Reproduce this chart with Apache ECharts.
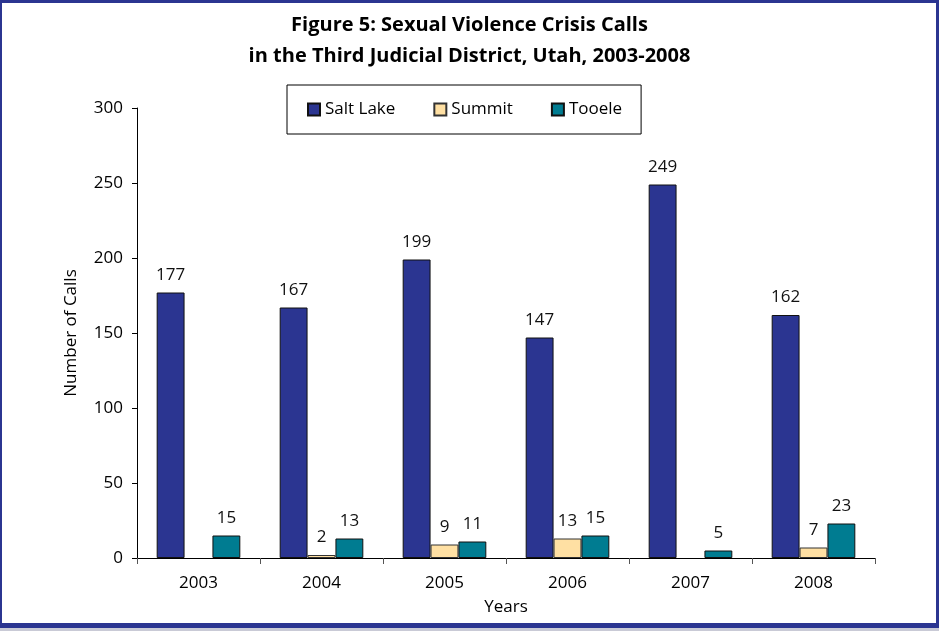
<!DOCTYPE html>
<html>
<head>
<meta charset="utf-8">
<script src="https://cdn.jsdelivr.net/npm/echarts@6/dist/echarts.min.js"></script>
<style>
  html, body { margin: 0; padding: 0; background: #fff; }
  #chart { position: absolute; left: 0; top: 0; width: 939px; height: 635px; }
  #frame {
    position: absolute; left: 0; top: 0; width: 934px; height: 620px;
    border-top: 3px solid #2B3591; border-left: 2px solid #2B3591;
    border-right: 3px solid #2B3591; border-bottom: 5px solid #2B3591;
    pointer-events: none;
  }
  #shadow { position: absolute; left: 0; top: 628px; width: 939px; height: 3px; background: #c9cad6; }
</style>
</head>
<body>
<div id="chart"></div>
<div id="frame"></div>
<div id="shadow"></div>
<script>
const years = ['2003', '2004', '2005', '2006', '2007', '2008']
const saltLake = [177, 167, 199, 147, 249, 162]
const summit = [null, 2, 9, 13, null, 7]
const tooele = [15, 13, 11, 15, 5, 23]

const fontFamily = '"Open Sans", "Noto Sans", sans-serif'
const axisLineColor = '#000'

const seriesDefault = {
  type: 'bar',
  barGap: 0,
  barCategoryGap: '32%',
  label: {
    show: true,
    position: 'top',
    distance: 9,
    color: '#111',
    fontSize: 17,
    fontFamily
  }
}

const chart = echarts.init(document.getElementById('chart'))
chart.setOption({
  backgroundColor: '#fff',
  animation: false,
  title: {
    text: 'Figure 5: Sexual Violence Crisis Calls\nin the Third Judicial District, Utah, 2003-2008',
    left: 'center',
    top: 5,
    textStyle: {
      fontFamily,
      fontWeight: 'bold',
      fontSize: 20,
      lineHeight: 31,
      color: '#000'
    }
  },
  legend: {
    left: 287,
    top: 85,
    padding: [16, 19, 16, 20],
    itemGap: 38,
    itemWidth: 12,
    itemHeight: 12,
    icon: 'rect',
    borderColor: '#000',
    borderWidth: 1,
    textStyle: { fontFamily, fontSize: 17, color: '#000' },
    data: ['Salt Lake', 'Summit', 'Tooele']
  },
  grid: {
    left: 137,
    right: 64,
    top: 108,
    bottom: 77
  },
  xAxis: {
    type: 'category',
    data: years,
    name: 'Years',
    nameLocation: 'middle',
    nameGap: 41,
    nameTextStyle: { fontFamily, fontSize: 17, color: '#000' },
    axisLine: { lineStyle: { color: axisLineColor, width: 1 } },
    axisTick: { show: true, length: 6, lineStyle: { color: '#555' } },
    axisLabel: { fontFamily, fontSize: 17, color: '#000', margin: 17 }
  },
  yAxis: {
    type: 'value',
    min: 0,
    max: 300,
    interval: 50,
    name: 'Number of Calls',
    nameLocation: 'middle',
    nameGap: 57,
    nameTextStyle: { fontFamily, fontSize: 17, color: '#000' },
    axisLine: { show: true, lineStyle: { color: axisLineColor, width: 1 } },
    axisTick: { show: true, length: 5, lineStyle: { color: axisLineColor } },
    axisLabel: { fontFamily, fontSize: 17, color: '#000', margin: 14 },
    splitLine: { show: false }
  },
  series: [
    Object.assign({}, seriesDefault, {
      name: 'Salt Lake',
      data: saltLake,
      itemStyle: { color: '#2B3591', borderColor: '#111', borderWidth: 1 }
    }),
    Object.assign({}, seriesDefault, {
      name: 'Summit',
      data: summit,
      itemStyle: { color: '#FFE0A3', borderColor: '#333', borderWidth: 1 }
    }),
    Object.assign({}, seriesDefault, {
      name: 'Tooele',
      data: tooele,
      itemStyle: { color: '#007C91', borderColor: '#111', borderWidth: 1 }
    })
  ]
})
</script>
</body>
</html>
